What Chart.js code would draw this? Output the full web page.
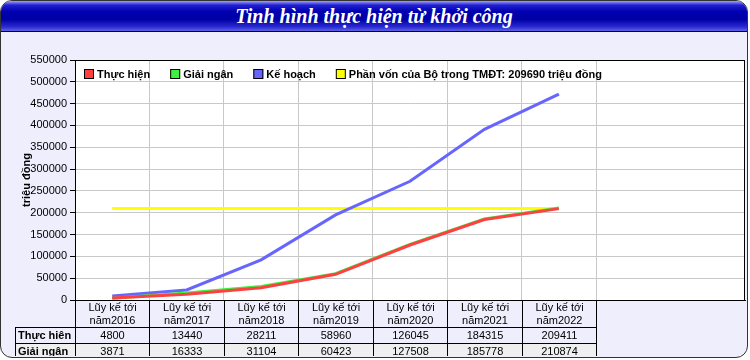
<!DOCTYPE html>
<html>
<head>
<meta charset="utf-8">
<script src="https://cdn.jsdelivr.net/npm/chart.js@4.4.0/dist/chart.umd.min.js"></script>
<style>
  html, body { margin: 0; padding: 0; background: #fff; }
  #wrap { position: relative; width: 750px; height: 360px; overflow: hidden; }
  #frame {
    position: absolute; left: 0; top: 0; width: 746px; height: 356px;
    border: 1px solid #333; border-radius: 12px; background: #eeeefd; overflow: hidden;
  }
  #bar {
    height: 30px; border-bottom: 1px solid #000; color: #fff; text-align: center;
    background: linear-gradient(to bottom, #a0a0ff 0%, #2020d0 14%, #0000b0 35%, #0000a6 62%, #2a2ad2 86%, #6060e6 100%);
    font: italic bold 20px "Liberation Serif", serif; line-height: 31px;
  }
  #chart { position: absolute; left: 0; top: 0; }
</style>
</head>
<body>
<div id="wrap">
  <div id="frame"><div id="bar">Tinh hình thực hiện từ khởi công</div></div>
  <canvas id="chart" width="750" height="360"></canvas>
</div>
<script>
// categories (two-line headers in the data table)
var categories = [
  ['Lũy kế tới', 'năm2016'],
  ['Lũy kế tới', 'năm2017'],
  ['Lũy kế tới', 'năm2018'],
  ['Lũy kế tới', 'năm2019'],
  ['Lũy kế tới', 'năm2020'],
  ['Lũy kế tới', 'năm2021'],
  ['Lũy kế tới', 'năm2022']
];

// series values
var thucHien = [4800, 13440, 28211, 58960, 126045, 184315, 209411];
var giaiNgan = [3871, 16333, 31104, 60423, 127508, 185778, 210874];
var keHoach  = [9000, 23000, 92000, 195000, 272000, 391000, 472000];
var phanVon  = [209690, 209690, 209690, 209690, 209690, 209690, 209690];

// table rows (label, values)
var tableRows = [
  ['Thực hiên', thucHien],
  ['Giải ngân', giaiNgan]
];

// y axis
var yMin = 0, yMax = 550000, yStep = 50000;
var slotCount = 9; // columns on the x axis (7 used)

var colors = {
  thucHien: '#ff4040',
  giaiNgan: '#40f040',
  keHoach: '#6666ff',
  phanVon: '#ffff00'
};

function toPoints(arr) {
  return arr.map(function (v, i) { return { x: i + 0.5, y: v }; });
}

var chartPlugin = {
  id: 'frameTable',
  beforeDraw: function (chart) {
    var a = chart.chartArea, ctx = chart.ctx;
    ctx.save();
    ctx.fillStyle = '#ffffff';
    ctx.fillRect(a.left, a.top, a.right - a.left, a.bottom - a.top);
    ctx.restore();
  },
  afterDraw: function (chart) {
    var a = chart.chartArea, ctx = chart.ctx;
    var xs = chart.scales.x;
    ctx.save();

    // plot border
    ctx.strokeStyle = '#000';
    ctx.lineWidth = 1;
    ctx.strokeRect(Math.round(a.left) + 0.5, Math.round(a.top) + 0.5,
      Math.round(a.right - a.left) - 1, Math.round(a.bottom - a.top));

    // legend inside the plot
    var lx = a.left + 9, ly = a.top + 9;
    ctx.font = 'bold 11px "Liberation Sans", Arial, sans-serif';
    ctx.textBaseline = 'middle';
    ctx.textAlign = 'left';
    chart.data.datasets.forEach(function (ds) {
      ctx.fillStyle = ds.borderColor;
      ctx.fillRect(lx, ly, 10, 10);
      ctx.strokeStyle = '#000';
      ctx.strokeRect(lx + 0.5, ly + 0.5, 9, 9);
      ctx.fillStyle = '#000';
      ctx.fillText(ds.label, lx + 13, ly + 5.5);
      lx += 13 + ctx.measureText(ds.label).width + 20;
    });

    // data table below the plot
    ctx.beginPath();
    ctx.rect(0, 0, 750, 356);
    ctx.clip();
    var top = Math.round(a.bottom);
    var hh = 27, rh = 16;
    var labelLeft = 15;
    var edges = [];
    for (var i = 0; i <= categories.length; i++) edges.push(Math.round(xs.getPixelForValue(i)));
    var right = edges[edges.length - 1];

    // shaded second row
    ctx.fillStyle = '#efefef';
    ctx.fillRect(labelLeft, top + hh + rh, right - labelLeft, rh);

    ctx.strokeStyle = '#000';
    ctx.lineWidth = 1;
    ctx.beginPath();
    for (var r = 0; r <= tableRows.length; r++) {
      var yy = top + hh + r * rh + 0.5;
      ctx.moveTo(labelLeft, yy);
      ctx.lineTo(right + 1, yy);
    }
    edges.forEach(function (ex) {
      ctx.moveTo(ex + 0.5, top);
      ctx.lineTo(ex + 0.5, 360);
    });
    ctx.moveTo(labelLeft + 0.5, top + hh);
    ctx.lineTo(labelLeft + 0.5, 360);
    ctx.stroke();

    // header text
    ctx.fillStyle = '#000';
    ctx.textAlign = 'center';
    ctx.font = '11px "Liberation Sans", Arial, sans-serif';
    categories.forEach(function (c, i) {
      var cx = (edges[i] + edges[i + 1]) / 2 + 0.5;
      ctx.fillText(c[0], cx, top + 8);
      ctx.fillText(c[1], cx, top + 21);
    });

    // rows
    tableRows.forEach(function (row, r) {
      var cy = top + hh + r * rh + rh / 2 + 1;
      ctx.textAlign = 'left';
      ctx.font = 'bold 11px "Liberation Sans", Arial, sans-serif';
      ctx.fillText(row[0], labelLeft + 3, cy);
      ctx.textAlign = 'center';
      ctx.font = '11px "Liberation Sans", Arial, sans-serif';
      row[1].forEach(function (v, i) {
        ctx.fillText(String(v), (edges[i] + edges[i + 1]) / 2 + 0.5, cy);
      });
    });

    ctx.restore();
  }
};

new Chart(document.getElementById('chart'), {
  type: 'line',
  data: {
    datasets: [
      { label: 'Thực hiện', data: toPoints(thucHien), borderColor: colors.thucHien },
      { label: 'Giải ngân', data: toPoints(giaiNgan), borderColor: colors.giaiNgan },
      { label: 'Kế hoạch', data: toPoints(keHoach), borderColor: colors.keHoach },
      { label: 'Phần vốn của Bộ trong TMĐT: 209690 triệu đồng', data: toPoints(phanVon), borderColor: colors.phanVon }
    ]
  },
  options: {
    responsive: false,
    animation: false,
    events: [],
    layout: { padding: { left: 0, top: 60, right: 5, bottom: 60 } },
    elements: {
      point: { radius: 0 },
      line: { borderWidth: 3, tension: 0, borderCapStyle: 'butt' }
    },
    plugins: {
      legend: { display: false },
      tooltip: { enabled: false },
      title: { display: false }
    },
    scales: {
      x: {
        type: 'linear',
        min: 0,
        max: slotCount,
        ticks: { display: false, stepSize: 1 },
        grid: {
          drawTicks: false,
          color: function (ctx) {
            var v = ctx.tick ? ctx.tick.value : 0;
            return (v >= 1 && v <= categories.length) ? '#c8c8c8' : 'rgba(0,0,0,0)';
          }
        },
        border: { color: '#000' },
        afterFit: function (s) { s.height = 0; }
      },
      y: {
        min: yMin,
        max: yMax,
        ticks: {
          stepSize: yStep,
          color: '#000',
          padding: 3,
          font: { family: '"Liberation Sans", Arial, sans-serif', size: 11 },
          callback: function (v) { return String(v); }
        },
        grid: { color: '#c8c8c8', tickColor: '#000', tickLength: 5 },
        border: { color: '#000' },
        title: {
          display: true,
          text: 'triệu đồng',
          color: '#000',
          font: { family: '"Liberation Sans", Arial, sans-serif', size: 11, weight: 'bold' },
          padding: { top: 20, bottom: 0 }
        },
        afterFit: function (s) { s.width = 75; }
      }
    }
  },
  plugins: [chartPlugin]
});
</script>
</body>
</html>
